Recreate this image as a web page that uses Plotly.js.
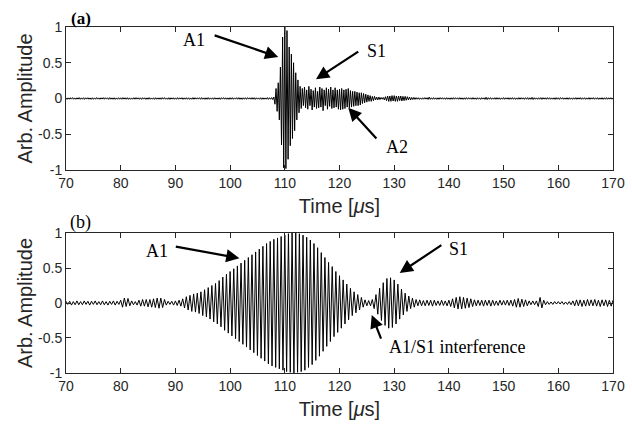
<!DOCTYPE html>
<html>
<head>
<meta charset="utf-8">
<script src="https://cdn.plot.ly/plotly-3.0.1.min.js"></script>
<style>html,body{margin:0;padding:0;background:#fff;}#chart{width:632px;height:428px;}</style>
</head>
<body>
<div id="chart"></div>
<script>
// Time axis: start time and sampling step (µs)
var timeStart = 70;
var stepA = 0.2;
var stepB = 1/3;

// Panel (a): signed half-cycle peak values (every 0.2 µs from 70 µs)
var ampA = [
0.01,-0.012,0.009,-0.01,0.011,-0.009,0.012,-0.01,0.008,-0.011,
0.01,-0.009,0.012,-0.011,0.009,-0.01,0.011,-0.012,0.01,-0.008,
0.011,-0.01,0.008,-0.012,0.01,-0.011,0.009,-0.01,0.012,-0.009,
0.009,-0.011,0.01,-0.008,0.012,-0.01,0.011,-0.009,0.01,-0.012,
0.012,-0.01,0.009,-0.011,0.01,-0.012,0.008,-0.01,0.011,-0.01,
0.01,-0.011,0.012,-0.009,0.01,-0.01,0.011,-0.012,0.009,-0.011,
0.008,-0.01,0.011,-0.01,0.012,-0.009,0.01,-0.011,0.01,-0.012,
0.011,-0.009,0.01,-0.012,0.009,-0.011,0.012,-0.01,0.008,-0.01,
0.01,-0.012,0.011,-0.01,0.009,-0.01,0.01,-0.011,0.012,-0.009,
0.012,-0.01,0.008,-0.011,0.011,-0.012,0.01,-0.009,0.01,-0.011,
0.009,-0.011,0.012,-0.01,0.01,-0.008,0.011,-0.012,0.009,-0.01,
0.011,-0.01,0.01,-0.012,0.008,-0.011,0.012,-0.01,0.011,-0.009,
0.01,-0.009,0.011,-0.011,0.012,-0.01,0.009,-0.012,0.01,-0.011,
0.012,-0.011,0.009,-0.01,0.01,-0.012,0.011,-0.009,0.008,-0.01,
0.01,-0.012,0.011,-0.009,0.012,-0.01,0.01,-0.011,0.009,-0.012,
0.011,-0.01,0.012,-0.011,0.009,-0.009,0.011,-0.01,0.012,-0.011,
0.009,-0.012,0.01,-0.01,0.011,-0.011,0.012,-0.009,0.01,-0.01,
0.012,-0.01,0.011,-0.012,0.01,-0.009,0.009,-0.011,0.011,-0.012,
0.01,-0.011,0.009,-0.01,0.012,-0.012,0.011,-0.01,0.013,-0.015,
0.02,-0.08,0.14,-0.18,0.22,-0.3,0.44,-0.65,0.86,-0.97,
1.0,-0.98,0.95,-0.85,0.72,-0.66,0.62,-0.56,0.5,-0.45,
0.36,-0.3,0.26,-0.2,0.17,-0.14,0.14,-0.1,0.16,-0.13,
0.12,-0.15,0.17,-0.1,0.13,-0.16,0.11,-0.12,0.15,-0.14,
0.1,-0.13,0.16,-0.12,0.14,-0.17,0.12,-0.1,0.15,-0.15,
0.13,-0.11,0.16,-0.14,0.12,-0.13,0.15,-0.12,0.12,-0.15,
0.13,-0.16,0.14,-0.15,0.12,-0.14,0.13,-0.12,0.14,-0.13,
0.11,-0.12,0.1,-0.11,0.1,-0.1,0.09,-0.1,0.08,-0.09,
0.08,-0.07,0.07,-0.06,0.06,-0.05,0.05,-0.04,0.04,-0.04,
0.03,-0.03,0.03,-0.02,0.02,-0.02,0.02,-0.015,0.015,-0.01,
0.015,-0.02,0.025,-0.03,0.035,-0.04,0.035,-0.04,0.04,-0.035,
0.04,-0.04,0.035,-0.04,0.035,-0.03,0.035,-0.035,0.03,-0.03,
0.03,-0.025,0.025,-0.02,0.02,-0.02,0.015,-0.015,0.015,-0.012,
0.012,-0.01,0.011,-0.012,0.009,-0.011,0.01,-0.01,0.012,-0.009,
0.011,-0.013,0.02,-0.012,0.01,-0.011,0.012,-0.01,0.009,-0.012,
0.01,-0.011,0.012,-0.009,0.011,-0.01,0.01,-0.012,0.011,-0.01,
0.009,-0.012,0.01,-0.011,0.012,-0.01,0.011,-0.009,0.01,-0.011,
0.012,-0.01,0.009,-0.012,0.01,-0.011,0.012,-0.01,0.011,-0.009,
0.01,-0.011,0.012,-0.01,0.009,-0.012,0.011,-0.01,0.01,-0.012,
0.011,-0.009,0.01,-0.012,0.018,-0.015,0.011,-0.01,0.012,-0.011,
0.009,-0.01,0.011,-0.011,0.012,-0.01,0.01,-0.012,0.009,-0.01,
0.012,-0.011,0.01,-0.009,0.011,-0.012,0.01,-0.01,0.012,-0.011,
0.01,-0.012,0.009,-0.011,0.012,-0.01,0.011,-0.009,0.01,-0.012,
0.011,-0.01,0.012,-0.012,0.01,-0.011,0.016,-0.014,0.011,-0.01,
0.009,-0.011,0.01,-0.01,0.012,-0.012,0.011,-0.009,0.01,-0.011,
0.012,-0.01,0.011,-0.011,0.009,-0.01,0.01,-0.012,0.012,-0.01,
0.01,-0.012,0.012,-0.009,0.011,-0.011,0.009,-0.01,0.011,-0.012,
0.011,-0.01,0.009,-0.012,0.01,-0.01,0.012,-0.011,0.01,-0.009,
0.012,-0.011,0.01,-0.01,0.011,-0.012,0.009,-0.01,0.012,-0.011,
0.01,-0.009,0.012,-0.011,0.01,-0.01,0.011,-0.012,0.009,-0.01,
0.011,-0.012,0.01,-0.01,0.012,-0.011,0.01,-0.009,0.011,-0.01,
0.01
];

// Panel (b): signed half-cycle peak values (every 1/3 µs from 70 µs)
var ampB = [
0.025,-0.02,0.025,-0.03,0.02,-0.025,
0.03,-0.025,0.02,-0.025,0.03,-0.02,
0.025,-0.03,0.025,-0.02,0.03,-0.025,
0.02,-0.025,0.03,-0.025,0.02,-0.03,
0.025,-0.02,0.03,-0.03,0.025,-0.02,
0.04,-0.06,0.07,-0.05,0.065,-0.04,
0.03,-0.025,0.02,-0.03,0.04,-0.045,
0.05,-0.045,0.05,-0.055,0.05,-0.06,
0.06,-0.065,0.07,-0.075,0.07,-0.065,
0.05,-0.03,0.025,-0.02,0.025,-0.03,
0.03,-0.035,0.04,-0.045,0.06,-0.07,
0.09,-0.1,0.11,-0.12,0.13,-0.13,
0.14,-0.15,0.16,-0.18,0.19,-0.2,
0.22,-0.23,0.25,-0.27,0.28,-0.3,
0.32,-0.34,0.37,-0.39,0.41,-0.43,
0.45,-0.47,0.49,-0.51,0.53,-0.55,
0.57,-0.59,0.61,-0.63,0.65,-0.67,
0.69,-0.71,0.73,-0.75,0.77,-0.79,
0.81,-0.83,0.85,-0.87,0.88,-0.9,
0.91,-0.92,0.93,-0.94,0.95,-0.96,
0.97,-0.98,0.99,-0.99,1.0,-1.0,
1.0,-0.99,0.99,-0.98,0.97,-0.96,
0.94,-0.92,0.9,-0.88,0.85,-0.82,
0.79,-0.76,0.72,-0.69,0.65,-0.62,
0.58,-0.55,0.52,-0.48,0.45,-0.42,
0.39,-0.36,0.33,-0.3,0.27,-0.24,
0.21,-0.18,0.16,-0.14,0.12,-0.1,
0.08,-0.06,0.045,-0.04,0.035,-0.04,
0.05,-0.08,0.12,-0.16,0.21,-0.25,
0.29,-0.32,0.35,-0.36,0.36,-0.35,
0.33,-0.3,0.27,-0.23,0.2,-0.17,
0.14,-0.12,0.1,-0.08,0.07,-0.06,
0.05,-0.04,0.045,-0.04,0.035,-0.04,
0.04,-0.035,0.04,-0.045,0.04,-0.035,
0.03,-0.035,0.04,-0.035,0.03,-0.04,
0.04,-0.05,0.06,-0.07,0.08,-0.085,
0.09,-0.085,0.08,-0.075,0.07,-0.065,
0.06,-0.05,0.045,-0.04,0.04,-0.035,
0.04,-0.045,0.04,-0.035,0.04,-0.045,
0.04,-0.035,0.03,-0.035,0.04,-0.03,
0.035,-0.03,0.04,-0.035,0.04,-0.045,
0.05,-0.06,0.065,-0.06,0.055,-0.05,
0.045,-0.04,0.03,-0.025,0.03,-0.025,
0.03,-0.05,0.08,-0.07,0.04,-0.025,
0.02,-0.02,0.015,-0.02,0.02,-0.015,
0.02,-0.015,0.02,-0.02,0.015,-0.02,
0.02,-0.025,0.03,-0.04,0.045,-0.04,
0.045,-0.05,0.04,-0.045,0.05,-0.04,
0.045,-0.04,0.05,-0.045,0.04,-0.05,
0.045,-0.04,0.045,-0.05,0.04,-0.045,
0.04
];

var xTickVals = [70,80,90,100,110,120,130,140,150,160,170];
var xTickText = ['70','80','90','100','110','120','130','140','150','160','170'];
var yTickVals = [-1,-0.5,0,0.5,1];
var yTickText = ['-1','-0.5','0','0.5','1'];

var sans = 'Liberation Sans, Arial, sans-serif';
var serif = 'Liberation Serif, Times New Roman, serif';
var axisCol = '#262626';

function xax(anchor){
  return {
    anchor: anchor, range:[70,170], tickmode:'array', tickvals:xTickVals, ticktext:xTickText,
    ticks:'inside', ticklen:5, tickwidth:1, tickcolor:axisCol, mirror:'ticks',
    showline:true, linecolor:axisCol, linewidth:1, showgrid:false, zeroline:false,
    tickfont:{family:sans, size:14, color:axisCol},
    title:{text:'Time [<i>\u03bc</i>s]', font:{family:sans, size:20, color:axisCol}, standoff:9}
  };
}
function yax(anchor, domain){
  return {
    anchor: anchor, domain: domain, range:[-1,1], tickmode:'array', tickvals:yTickVals, ticktext:yTickText,
    ticks:'inside', ticklen:5, tickwidth:1, tickcolor:axisCol, mirror:'ticks',
    showline:true, linecolor:axisCol, linewidth:1, showgrid:false, zeroline:false,
    tickfont:{family:sans, size:14, color:axisCol},
    title:{text:'Arb. Amplitude', font:{family:sans, size:20, color:axisCol}, standoff:0}
  };
}

var traces = [
  {type:'scatter', mode:'lines', x0:timeStart, dx:stepA, y:ampA, xaxis:'x', yaxis:'y',
   line:{color:'#000', width:1}, hoverinfo:'skip'},
  {type:'scatter', mode:'lines', x0:timeStart, dx:stepB, y:ampB, xaxis:'x2', yaxis:'y2',
   line:{color:'#000', width:1}, hoverinfo:'skip'}
];

function arrow(xr, yr, hx, hy, tx, ty){
  return {xref:xr, yref:yr, axref:xr, ayref:yr, x:hx, y:hy, ax:tx, ay:ty, text:'',
    showarrow:true, arrowhead:2, arrowsize:1.2, arrowwidth:2.2, arrowcolor:'#000'};
}
function label(xr, yr, x, y, t, anchor){
  return {xref:xr, yref:yr, x:x, y:y, text:t, showarrow:false, xanchor:anchor||'center', yanchor:'middle',
    font:{family:serif, size:18, color:'#000'}};
}

var layout = {
  width:632, height:428,
  margin:{l:66, r:19, t:27, b:55},
  paper_bgcolor:'#fff', plot_bgcolor:'#fff',
  showlegend:false,
  xaxis: xax('y'),
  yaxis: yax('x', [0.5867, 1]),
  xaxis2: xax('y2'),
  yaxis2: yax('x2', [0, 0.4046]),
  annotations: [
    {xref:'paper', yref:'paper', x:0.028, y:1.026, text:'<b>(a)</b>', showarrow:false, xanchor:'center', yanchor:'middle',
     font:{family:serif, size:17, color:'#000'}},
    {xref:'paper', yref:'paper', x:0.027, y:0.436, text:'(b)', showarrow:false, xanchor:'center', yanchor:'middle',
     font:{family:serif, size:18, color:'#000'}},
    label('x','y', 93.4, 0.82, 'A1'),
    arrow('x','y', 108.8, 0.58, 96.9, 0.89),
    label('x','y', 126.7, 0.67, 'S1'),
    arrow('x','y', 115.7, 0.27, 123.7, 0.67),
    label('x','y', 130.5, -0.68, 'A2'),
    arrow('x','y', 121.6, -0.13, 127.0, -0.58),
    label('x2','y2', 86.7, 0.74, 'A1'),
    arrow('x2','y2', 101.7, 0.64, 89.8, 0.81),
    label('x2','y2', 141.8, 0.77, 'S1'),
    arrow('x2','y2', 131.0, 0.43, 138.9, 0.84),
    label('x2','y2', 128.6, -0.63, 'A1/S1 interference', 'left'),
    arrow('x2','y2', 125.9, -0.17, 127.7, -0.53)
  ]
};

Plotly.newPlot('chart', traces, layout, {displayModeBar:false, staticPlot:true});
</script>
</body>
</html>
